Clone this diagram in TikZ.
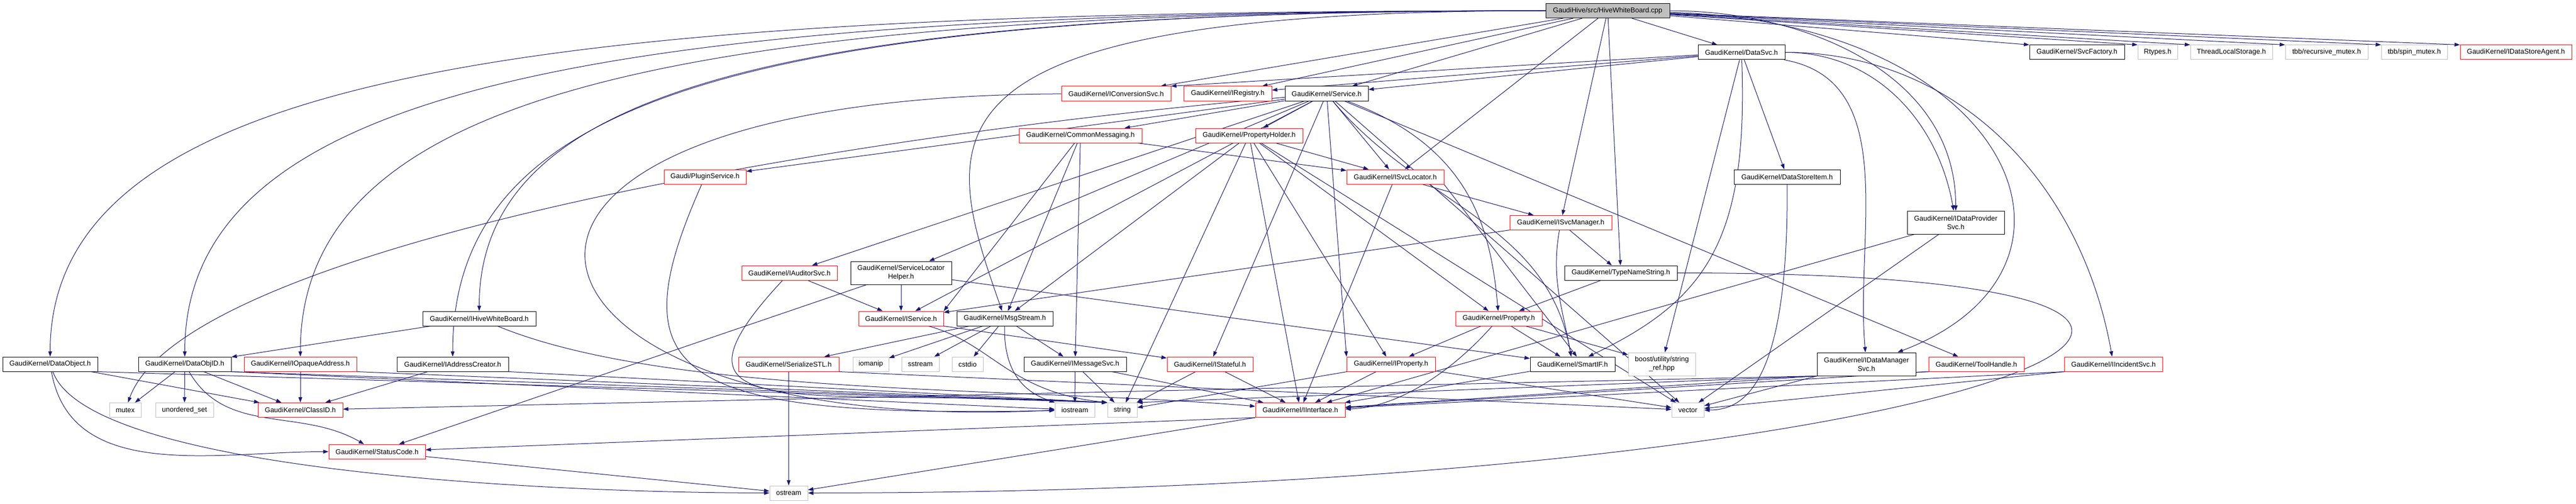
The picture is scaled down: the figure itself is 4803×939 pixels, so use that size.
\documentclass[tikz,border=0pt]{standalone}
\usepackage{fontspec}
\setmainfont{Liberation Sans}
\usetikzlibrary{arrows.meta,backgrounds}
\definecolor{midblue}{RGB}{25,25,112}
\definecolor{lightgrey}{RGB}{191,191,191}

\begin{document}
\begin{tikzpicture}[x=1pt,y=1pt,
  every node/.style={font=\fontsize{13}{16}\selectfont,inner sep=0pt,
    minimum height=27,align=center,fill=white},
  dep/.style={draw=midblue,line width=1pt,-{Triangle[length=10pt,width=7pt]}},
  deps/.style={every edge/.style={dep}}]
\tikzstyle{file}=[draw=black,line width=1pt]
\tikzstyle{part}=[draw=red,line width=1pt]
\tikzstyle{sys}=[draw=lightgrey,line width=1pt]
\tikzstyle{src}=[draw=black,fill=lightgrey,line width=1pt]
\useasboundingbox (0,0) rectangle (4803,-939);

\node [src,minimum width=231] (root) at (2997.5,-20) {GaudiHive/src/HiveWhiteBoard.cpp};
\node [file,minimum width=162] (datasvc) at (3247,-97.5) {GaudiKernel/DataSvc.h};
\node [file,minimum width=177] (svcfactory) at (3872.5,-97.5) {GaudiKernel/SvcFactory.h};
\node [sys,minimum width=74] (rtypes) at (4023,-97.5) {Rtypes.h};
\node [sys,minimum width=153] (tls) at (4160.5,-97.5) {ThreadLocalStorage.h};
\node [sys,minimum width=154] (recmutex) at (4338,-97.5) {tbb/recursive\_mutex.h};
\node [sys,minimum width=123] (spinmutex) at (4501.5,-97.5) {tbb/spin\_mutex.h};
\node [part,minimum width=208] (datastoreagent) at (4691,-97.5) {GaudiKernel/IDataStoreAgent.h};
\node [part,minimum width=204] (iconversionsvc) at (2081,-174.5) {GaudiKernel/IConversionSvc.h};
\node [part,minimum width=164] (iregistry) at (2289,-174.5) {GaudiKernel/IRegistry.h};
\node [file,minimum width=155] (service) at (2473.5,-174.5) {GaudiKernel/Service.h};
\node [part,minimum width=229] (commonmessaging) at (2014.5,-252.5) {GaudiKernel/CommonMessaging.h};
\node [part,minimum width=200] (propertyholder) at (2329,-252.5) {GaudiKernel/PropertyHolder.h};
\node [part,minimum width=153] (pluginservice) at (1314.5,-329.5) {Gaudi/PluginService.h};
\node [part,minimum width=181] (isvclocator) at (2601.5,-329.5) {GaudiKernel/ISvcLocator.h};
\node [file,minimum width=198] (datastoreitem) at (3332,-329.5) {GaudiKernel/DataStoreItem.h};
\node [part,minimum width=190] (isvcmanager) at (2910,-415) {GaudiKernel/ISvcManager.h};
\node [file,minimum width=181,minimum height=43] (idataprovidersvc) at (3646.5,-414.5) {GaudiKernel/IDataProvider\\Svc.h};
\node [part,minimum width=178] (iauditorsvc) at (1472,-508.5) {GaudiKernel/IAuditorSvc.h};
\node [file,minimum width=188,minimum height=43] (servicelocatorhelper) at (1680,-508.5) {GaudiKernel/ServiceLocator\\Helper.h};
\node [file,minimum width=210] (typenamestring) at (3022,-508.5) {GaudiKernel/TypeNameString.h};
\node [file,minimum width=211] (ihivewhiteboard) at (893.5,-593.5) {GaudiKernel/IHiveWhiteBoard.h};
\node [part,minimum width=158] (iservice) at (1680,-593.5) {GaudiKernel/IService.h};
\node [file,minimum width=179] (msgstream) at (1873.5,-593.5) {GaudiKernel/MsgStream.h};
\node [part,minimum width=161] (property) at (2794.5,-593.5) {GaudiKernel/Property.h};
\node [file,minimum width=177] (dataobject) at (93.5,-678.5) {GaudiKernel/DataObject.h};
\node [file,minimum width=173] (dataobjid) at (344.5,-678.5) {GaudiKernel/DataObjID.h};
\node [part,minimum width=210] (iopaqueaddress) at (560,-678.5) {GaudiKernel/IOpaqueAddress.h};
\node [file,minimum width=208] (iaddresscreator) at (844,-678.5) {GaudiKernel/IAddressCreator.h};
\node [part,minimum width=187] (serializestl) at (1470.5,-678.5) {GaudiKernel/SerializeSTL.h};
\node [sys,minimum width=67] (iomanip) at (1623.5,-678.5) {iomanip};
\node [sys,minimum width=70] (sstream) at (1716,-678.5) {sstream};
\node [sys,minimum width=58] (cstdio) at (1804,-678.5) {cstdio};
\node [file,minimum width=191] (imessagesvc) at (2004.5,-678.5) {GaudiKernel/IMessageSvc.h};
\node [part,minimum width=160] (istateful) at (2256,-678.5) {GaudiKernel/IStateful.h};
\node [part,minimum width=165] (iproperty) at (2593.5,-678.5) {GaudiKernel/IProperty.h};
\node [file,minimum width=158] (smartif) at (2932,-678.5) {GaudiKernel/SmartIF.h};
\node [sys,minimum width=125,minimum height=43] (stringref) at (3098.5,-678.5) {boost/utility/string\\\_ref.hpp};
\node [file,minimum width=184,minimum height=43] (idatamanagersvc) at (3480,-678.5) {GaudiKernel/IDataManager\\Svc.h};
\node [part,minimum width=178] (toolhandle) at (3685,-678.5) {GaudiKernel/ToolHandle.h};
\node [part,minimum width=183] (iincidentsvc) at (3940.5,-678.5) {GaudiKernel/IIncidentSvc.h};
\node [sys,minimum width=59] (mutex) at (233.5,-764) {mutex};
\node [sys,minimum width=108] (unorderedset) at (344,-764) {unordered\_set};
\node [part,minimum width=158] (classid) at (560,-764) {GaudiKernel/ClassID.h};
\node [sys,minimum width=74] (iostream) at (2004,-764) {iostream};
\node [sys,minimum width=55] (string) at (2092.5,-764) {string};
\node [part,minimum width=167] (iinterface) at (2424.5,-764) {GaudiKernel/IInterface.h};
\node [sys,minimum width=60] (vector) at (3147,-764) {vector};
\node [part,minimum width=180] (statuscode) at (703,-841.5) {GaudiKernel/StatusCode.h};
\node [sys,minimum width=71] (ostream) at (1470.5,-918.5) {ostream};

\begin{scope}[on background layer]
\draw[dep] (root.west) .. controls (1082,-20) and (93.5,-115) .. (dataobject.north);
\draw[dep] (root.west) .. controls (1182,-20) and (344.5,-145) .. (dataobjid.north);
\draw[dep] (root.west) .. controls (1282,-20) and (560,-165) .. (iopaqueaddress.north);
\draw[dep] (root.west) .. controls (1382,-20) and (844,-185) .. (iaddresscreator.north);
\draw[dep] (root.west) .. controls (1482,-20) and (893.5,-160) .. (ihivewhiteboard.north);
\draw[dep] (root.west) .. controls (1682,-20) and (1753,-251) .. (msgstream.110);
\draw[dep] (root) .. controls (3750,-40) and (3950,-500) .. (idatamanagersvc);
\path[deps]
    (root) edge (iconversionsvc)
    (root) edge (iregistry)
    (root) edge (service)
    (root) edge (isvclocator)
    (root) edge (isvcmanager)
    (root) edge (typenamestring)
    (root) edge (datasvc)
    (root) edge[out=0,in=90] (idataprovidersvc)
    (root) edge (svcfactory.north west)
    (root) edge (rtypes.north west)
    (root) edge (tls.north west)
    (root) edge (recmutex.north west)
    (root) edge (spinmutex.north west)
    (root) edge (datastoreagent.north west);

\path[deps]
    (datasvc) edge (service)
    (datasvc) edge (iconversionsvc.north east)
    (datasvc) edge (iregistry)
    (datasvc) edge (datastoreitem)
    (datasvc) edge (stringref)
    (datasvc) edge[out=0,in=100] (idataprovidersvc)
    (datasvc) edge[out=-10,in=95] (idatamanagersvc)
    (datasvc) edge[out=0,in=100] (iincidentsvc);
\draw[dep] (datasvc) .. controls (3260,-450) and (3180,-560) .. (smartif);

\path[deps]
    (service) edge (commonmessaging)
    (service) edge (propertyholder)
    (service) edge (pluginservice)
    (service) edge (iauditorsvc)
    (service) edge (servicelocatorhelper)
    (service) edge (iservice)
    (service) edge (isvclocator)
    (service) edge (iproperty.north west)
    (service) edge[out=-50,in=100] (smartif)
    (service) edge (istateful)
    (service) edge (toolhandle)
    (service) edge (vector);
\draw[dep] (service.-20) .. controls (2745,-274) and (2780,-431) .. (property.95);
\draw[dep] (service.185) .. controls (1499,-259) and (341,-469) .. (mutex.70);

\path[deps]
    (commonmessaging) edge (msgstream)
    (commonmessaging) edge (imessagesvc)
    (commonmessaging) edge (iservice.north east)
    (commonmessaging) edge (isvclocator)
    (propertyholder) edge (msgstream)
    (propertyholder) edge (isvclocator)
    (propertyholder) edge (property)
    (propertyholder) edge (iproperty)
    (propertyholder) edge (iinterface)
    (propertyholder) edge (string)
    (propertyholder) edge (vector);
\draw[dep] (pluginservice) .. controls (1150,-700) and (1250,-780) .. (iostream);
\draw[dep] (iconversionsvc) .. controls (700,-180) and (900,-820) .. (iostream.west);

\path[deps]
    (iauditorsvc) edge (iservice)
    (servicelocatorhelper) edge (iservice)
    (servicelocatorhelper) edge (statuscode)
    (servicelocatorhelper) edge (smartif)
    (iservice.south east) edge (istateful)
    (msgstream) edge (serializestl)
    (msgstream) edge (iomanip)
    (msgstream) edge (sstream)
    (msgstream) edge (cstdio)
    (msgstream) edge (imessagesvc);
\draw[dep] (iauditorsvc) .. controls (1200,-800) and (1500,-720) .. (string.north west);
\draw[dep] (iservice) .. controls (1850,-640) and (1880,-730) .. (string.north west);
\draw[dep] (msgstream) .. controls (1870,-720) and (1940,-740) .. (iostream);

\path[deps]
    (serializestl) edge (ostream)
    (serializestl.south east) edge (vector)
    (imessagesvc) edge (iinterface)
    (imessagesvc) edge (iostream)
    (imessagesvc) edge (string)
    (istateful) edge (iinterface)
    (istateful) edge (string)
    (isvclocator) edge (isvcmanager)
    (isvclocator) edge (iinterface)
    (isvclocator.south east) edge (smartif.60)
    (isvcmanager) edge (iservice)
    (isvcmanager) edge (typenamestring)
    (isvcmanager) edge[out=-100,in=100] (smartif)
    (typenamestring) edge (property)
    (property) edge (iproperty)
    (property) edge (smartif)
    (property) edge (stringref)
    (iproperty) edge (iinterface)
    (iproperty) edge (string)
    (iproperty) edge (vector)
    (smartif) edge (iinterface);
\draw[dep] (typenamestring.east) .. controls (4627,-508) and (3706,-918) .. (ostream.east);
\draw[dep] (property) .. controls (2700,-700) and (2600,-760) .. (iinterface);
\draw[dep] (datastoreitem) .. controls (3335,-720) and (3250,-764) .. (vector);

\path[deps]
    (idataprovidersvc) edge (iinterface)
    (idataprovidersvc) edge (vector)
    (idatamanagersvc.south west) edge (iinterface)
    (idatamanagersvc.south west) edge (classid)
    (idatamanagersvc.south west) edge (vector)
    (toolhandle.south west) edge (iinterface)
    (toolhandle.south west) edge (string.north east)
    (iincidentsvc.south west) edge (iinterface)
    (iincidentsvc.south west) edge (vector);

\path[deps]
    (dataobject) edge (classid)
    (dataobject) edge[out=-80,in=180] (statuscode)
    (dataobject.south east) edge (string.north west)
    (dataobjid) edge (mutex)
    (dataobjid) edge (unorderedset)
    (dataobjid) edge (classid)
    (dataobjid) edge[out=-60,in=150] (statuscode)
    (dataobjid.south east) edge (string.north west)
    (dataobjid.south east) edge (iostream)
    (iopaqueaddress) edge (classid)
    (iopaqueaddress.south east) edge (string.north west)
    (iaddresscreator) edge (classid)
    (iaddresscreator.south east) edge (string.north west)
    (ihivewhiteboard) edge (dataobjid)
    (iinterface.south west) edge (statuscode)
    (iinterface.south west) edge (ostream)
    (statuscode) edge (ostream);
\draw[dep] (dataobject.-70) .. controls (166,-880) and (1035,-918) .. (ostream.west);
\draw[dep] (ihivewhiteboard) .. controls (1250,-740) and (1900,-720) .. (iinterface);
\end{scope}
\end{tikzpicture}
\end{document}
